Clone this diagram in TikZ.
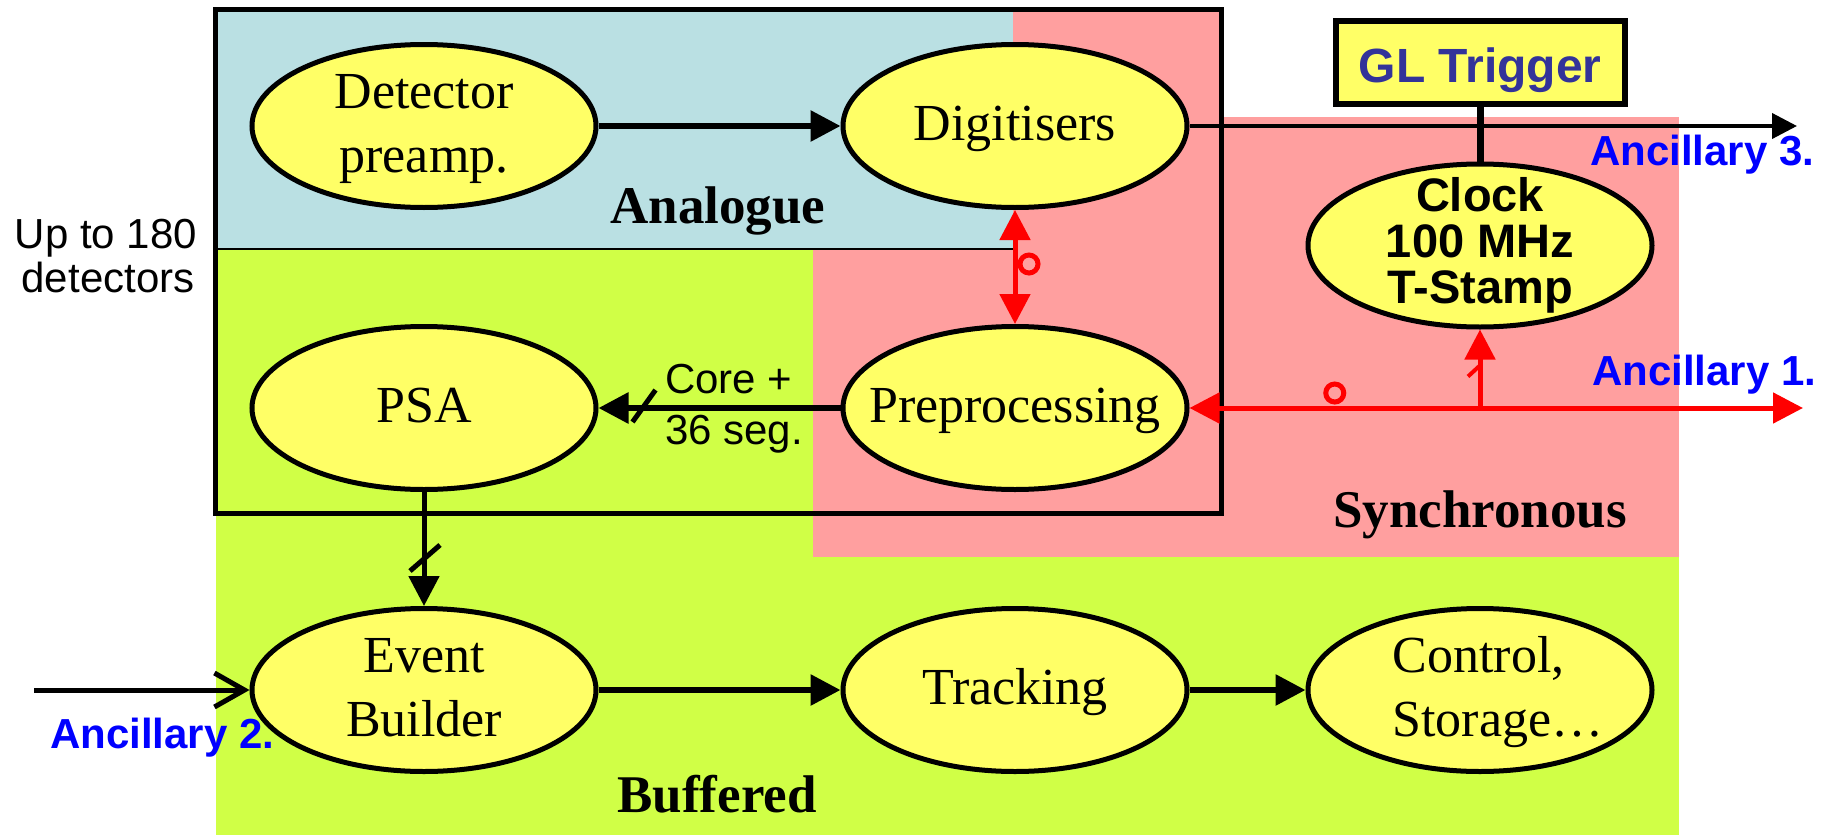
\documentclass[tikz,border=0pt]{standalone}
\usepackage{fontspec}
\setmainfont{Liberation Serif}
\setsansfont{Liberation Sans}
\usetikzlibrary{arrows.meta,shapes.geometric,calc}

\definecolor{bgblue}{RGB}{186,224,227}
\definecolor{bgpink}{RGB}{255,159,159}
\definecolor{bggreen}{RGB}{208,255,70}
\definecolor{boxyellow}{RGB}{255,255,102}
\definecolor{trigblue}{RGB}{51,51,153}
\definecolor{ancblue}{RGB}{0,0,255}
\definecolor{sigred}{RGB}{255,0,0}

% fixed line height/depth so every stage label sits the same way
\newcommand\stagestrut{\rule[-12pt]{0pt}{53pt}}

\begin{document}
\begin{tikzpicture}[x=1pt, y=-1pt,
  stage/.style={ellipse, draw=black, line width=5pt, fill=boxyellow,
    minimum width=344pt, minimum height=163pt, inner sep=0pt},
  stagetext/.style={font=\fontsize{52}{64}\selectfont, align=center, inner sep=0pt},
  clocktext/.style={font=\sffamily\bfseries\fontsize{47}{46}\selectfont, align=center, inner sep=0pt},
  region/.style={font=\bfseries\fontsize{53}{60}\selectfont, anchor=base, inner sep=0pt},
  anc/.style={font=\sffamily\bfseries\fontsize{42}{48}\selectfont, text=ancblue, anchor=base west, inner sep=0pt},
  note/.style={font=\sffamily\fontsize{42}{44}\selectfont, inner sep=0pt},
  flow/.style={line width=6pt, -{Triangle[length=30pt,width=30pt]}},
  sync/.style={color=sigred, line width=5pt},
  bus/.style={line width=5pt},
  ring/.style={draw=sigred, line width=5pt},
]
\useasboundingbox (0,0) rectangle (1829,835);

% domain backgrounds
\fill[bggreen] (216,249) rectangle (1679,835);
\fill[bgpink] (813,117) rectangle (1679,557);
\fill[bgpink] (1013,12) rectangle (1221,117);
\fill[bgblue] (216,12) rectangle (1013,249);
\draw[line width=1.5pt] (216,249) -- (1013,249);

% per-detector frame
\draw[line width=5pt] (215.5,9.5) rectangle (1221,513);

% processing stages
\node[stage, label={[stagetext]center:{\stagestrut Detector\\\stagestrut preamp.}}] (det) at (424,126) {};
\node[stage, label={[stagetext]center:{\stagestrut Digitisers}}] (dig) at (1015,126) {};
\node[stage, label={[stagetext]center:{\stagestrut PSA}}] (psa) at (424,408) {};
\node[stage, label={[stagetext]center:{\stagestrut Preprocessing}}] (pre) at (1015,408) {};
\node[stage, label={[stagetext]center:{\stagestrut Event\\\stagestrut Builder}}] (eb) at (424,690) {};
\node[stage, label={[stagetext]center:{\stagestrut Tracking}}] (trk) at (1015,690) {};
\node[stage, label={[stagetext, align=left]center:{\hspace*{36pt}\stagestrut Control,\\\hspace*{36pt}\stagestrut Storage…}}] (ctl) at (1480,690) {};
\node[stage, label={[clocktext]center:{Clock\\100 MHz\\T-Stamp}}] (clk) at (1480,245.5) {};

\node[draw, line width=6pt, fill=boxyellow, minimum width=289pt, minimum height=83pt,
  inner sep=0pt, font=\sffamily\bfseries\fontsize{48}{50}\selectfont, text=trigblue,
  text height=39pt, text depth=0pt] (gl) at (1480,62.5) {GL Trigger};

% free ends of the external links
\coordinate (anc3end) at (1797,126);
\coordinate (anc1end) at (1803,408);
\coordinate (anc2start) at (34,690);
\coordinate (junc) at (clk.south |- pre.east);

% data flow
\draw[flow] (det) -- (dig);
\draw[flow] (pre) -- (psa);
\draw[flow, line width=5pt] (psa) -- (eb);
\draw[flow] (eb) -- (trk);
\draw[flow] (trk) -- (ctl);
\draw[line width=4pt, -{Triangle[length=25pt,width=25pt]}] (dig.east) -- (anc3end);
\draw[line width=7pt] (gl.south) -- (clk.north);
\draw[line width=5pt, -{Straight Barb[length=30pt,width=34pt]}] (anc2start) -- (eb.west);

% bus marks
\draw[bus] ($(psa.east)+(34,14)$) -- ++(23,-32);
\draw[bus] ($(eb.north)+(-14,-35)$) -- ++(30,-26);

% synchronous signals
\draw[sync, {Triangle[length=30pt,width=30pt]}-{Triangle[length=30pt,width=30pt]}] (dig.south) -- (pre.north);
\draw[sync, {Triangle[length=30pt,width=30pt]}-{Triangle[length=30pt,width=30pt]}] (pre.east) -- (anc1end);
\draw[sync, -{Triangle[length=30pt,width=30pt]}] (junc) -- (clk.south);
\draw[sync, line width=4pt] ($(clk.south)+(-12,47)$) -- ++(13,-12);
\draw[ring] ($(dig.south)!.5!(pre.north)+(14,-3)$) circle[radius=9pt];
\draw[ring] ($(pre.east)!.5!(junc)+(0,-15)$) circle[radius=9pt];

% labels
\node[region] (analogue) at (718,223) {Analogue};
\node[region] (synchronous) at (1480,527) {Synchronous};
\node[region] (buffered) at (717,812) {Buffered};
\node[note, anchor=base] (upto) at (106,248) {Up to 180};
\node[note, anchor=base] (dets) at (108,292) {detectors};
\node[note, anchor=base west] (core1) at (665,393) {Core +};
\node[note, anchor=base west] (core2) at (665,444) {36 seg.};
\node[anc] (anc3) at (1590,165) {Ancillary 3.};
\node[anc] (anc1) at (1592,385) {Ancillary 1.};
\node[anc] (anc2) at (50,748) {Ancillary 2.};
\end{tikzpicture}
\end{document}
